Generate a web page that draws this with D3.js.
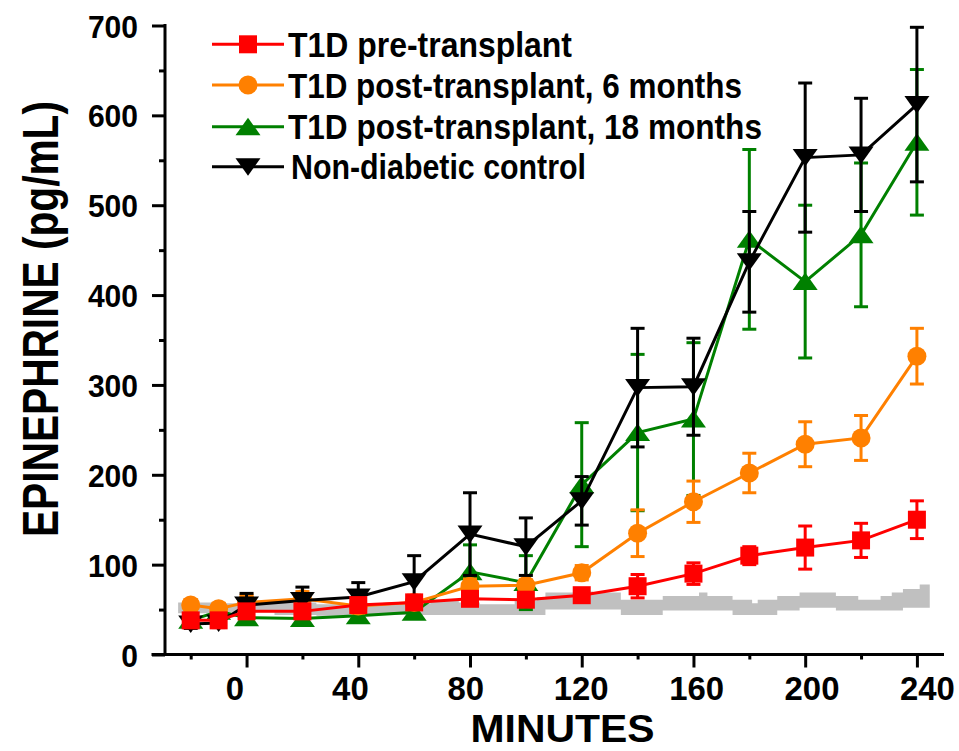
<!DOCTYPE html>
<html><head><meta charset="utf-8">
<script src="https://cdn.jsdelivr.net/npm/d3@7"></script>
<style>
body{margin:0;background:#fff;}
svg{display:block;}
text{font-family:"Liberation Sans",Arial,sans-serif;font-weight:bold;fill:#000;}
</style>
</head><body>
<svg id="chart" width="959" height="751"></svg>
<script>
// ---- data ----
const times = [-20, -10, 0, 20, 40, 60, 80, 100, 120, 140, 160, 180, 200, 220, 240];
const seriesNames = ["T1D pre-transplant", "T1D post-transplant, 6 months", "T1D post-transplant, 18 months", "Non-diabetic control"];
const preTx      = [38, 38, 48, 48, 55, 58, 62, 61, 66, 76, 90, 110, 119, 127, 150];
const preTxErr   = [5, 5, 5, 5, 5, 5, 5, 5, 6, 13, 12, 10, 24, 19, 21];
const post6      = [55, 51, 58, 62, 54, 58, 76, 77, 91, 135, 170, 202, 234, 241, 332];
const post6Err   = [6, 6, 8, 8, 8, 8, 8, 6, 8, 26, 23, 22, 25, 25, 31];
const post18     = [38, 48, 41, 40, 43, 47, 92, 80, 189, 247, 262, 462, 415, 467, 570];
const post18Err  = [6, 6, 6, 6, 6, 6, 30, 30, 69, 87, 85, 100, 85, 80, 81];
const control    = [34, 35, 55, 60, 64, 81, 134, 120, 171, 297, 298, 437, 553, 556, 612];
const controlErr = [5, 5, 13, 15, 16, 29, 46, 32, 27, 66, 54, 56, 83, 63, 86];
// grey reference band (step edges)
const bandT  = [-24.5, -10, 10, 25, 40, 55, 66, 76, 83.5, 96, 104, 107, 118, 122, 124, 134, 149, 162, 165, 174, 181, 183, 190, 198, 211, 219, 227, 231, 235, 241, 244.6];
const bandLo = [46, 47, 44, 43, 44, 44, 44, 44, 44, 44, 44, 50, 50, 50, 50, 44, 49, 49, 49, 44, 44, 44, 49, 52, 49, 49, 49, 49, 52, 52, 52];
const bandHi = [58, 57, 58, 56, 55, 57, 61, 58, 56, 60, 64, 69, 72, 70, 69, 61, 65, 69, 65, 61, 57, 61, 65, 69, 65, 61, 65, 69, 73, 78, 78];
const yTicks = [0, 100, 200, 300, 400, 500, 600, 700];
const yMinor = [50, 150, 250, 350, 450, 550, 650];
const xTicks = [0, 40, 80, 120, 160, 200, 240];
const xMinor = [-20, 20, 60, 100, 140, 180, 220];
const xTitle = "MINUTES";
const yTitle = "EPINEPHRINE (pg/mL)";

const svg = d3.select("#chart");
const x = d3.scaleLinear().domain([-29.2, 249.7]).range([165, 944]);
const y = d3.scaleLinear().domain([0, 700]).range([654.5, 25.5]);
const xLab = d3.scaleLinear().domain([0, 240]).range([235, 927.4]);

const series = [
  {name: seriesNames[0], v: preTx,   e: preTxErr,   color: "#ff0000", shape: "square"},
  {name: seriesNames[1], v: post6,   e: post6Err,   color: "#ff8000", shape: "circle"},
  {name: seriesNames[2], v: post18,  e: post18Err,  color: "#008000", shape: "up"},
  {name: seriesNames[3], v: control, e: controlErr, color: "#000000", shape: "down"}
];
const drawOrder = [2, 1, 3, 0];

const shapes = {
  square: "M-9,-9H9V9H-9Z",
  up: "M0,-9L12.5,8.5L-12.5,8.5Z",
  down: "M-12.5,-8.5L12.5,-8.5L0,9Z"
};
function marker(g, s, cx, cy, c) {
  if (s === "circle") {
    g.append("circle").attr("cx", cx).attr("cy", cy).attr("r", 9.5).attr("fill", c);
  } else {
    g.append("path").attr("d", shapes[s]).attr("transform", `translate(${cx},${cy})`).attr("fill", c);
  }
}

// grey band
const band = bandT.map((t, i) => ({t, lo: bandLo[i], hi: bandHi[i]}));
svg.append("path").datum(band)
  .attr("d", d3.area().curve(d3.curveStepAfter).x(d => x(d.t)).y0(d => y(d.lo)).y1(d => y(d.hi)))
  .attr("fill", "#c0c0c0");

// series
drawOrder.forEach(si => {
  const s = series[si];
  const g = svg.append("g");
  const pts = times.map((t, i) => ({t, v: s.v[i], e: s.e[i]}));
  g.append("path").datum(pts)
    .attr("d", d3.line().x(d => x(d.t)).y(d => y(d.v)))
    .attr("fill", "none").attr("stroke", s.color).attr("stroke-width", 3);
  pts.forEach(d => {
    const cx = x(d.t);
    g.append("line").attr("x1", cx).attr("x2", cx).attr("y1", y(d.v - d.e)).attr("y2", y(d.v + d.e))
      .attr("stroke", s.color).attr("stroke-width", 3);
    [d.v - d.e, d.v + d.e].forEach(val => {
      g.append("line").attr("x1", cx - 7).attr("x2", cx + 7).attr("y1", y(val)).attr("y2", y(val))
        .attr("stroke", s.color).attr("stroke-width", 3);
    });
  });
  pts.forEach(d => marker(g, s.shape, x(d.t), y(d.v), s.color));
});

// axes
const yAxis = svg.append("g").attr("transform", "translate(165,0)")
  .call(d3.axisLeft(y).tickValues(yTicks).tickSize(13).tickPadding(14));
yAxis.select(".domain").remove();
yAxis.selectAll(".tick line").attr("stroke", "#000").attr("stroke-width", 3);
yAxis.selectAll(".tick text").attr("font-size", 32).attr("dy", "0.36em")
  .attr("fill", "#000").style("font-family", '"Liberation Sans",Arial,sans-serif').style("font-weight", "bold")
  .attr("textLength", d => String(d).length * 16.7).attr("lengthAdjust", "spacingAndGlyphs");
const yMin = svg.append("g").attr("transform", "translate(165,0)")
  .call(d3.axisLeft(y).tickValues(yMinor).tickSize(6).tickFormat(""));
yMin.select(".domain").remove();
yMin.selectAll(".tick line").attr("stroke", "#000").attr("stroke-width", 3);

const xAxis = svg.append("g").attr("transform", "translate(0,654.5)")
  .call(d3.axisBottom(x).tickValues(xTicks).tickSize(13).tickFormat(""));
xAxis.select(".domain").remove();
xAxis.selectAll(".tick line").attr("stroke", "#000").attr("stroke-width", 3);
const xMin = svg.append("g").attr("transform", "translate(0,654.5)")
  .call(d3.axisBottom(x).tickValues(xMinor).tickSize(5).tickFormat(""));
xMin.select(".domain").remove();
xMin.selectAll(".tick line").attr("stroke", "#000").attr("stroke-width", 3);
svg.append("g").selectAll("text").data(xTicks).join("text")
  .attr("x", d => xLab(d)).attr("y", 700).attr("text-anchor", "middle")
  .attr("font-size", 34).text(d => d)
  .attr("textLength", d => String(d).length * 18.3).attr("lengthAdjust", "spacingAndGlyphs");

svg.append("line").attr("x1", 165).attr("x2", 165).attr("y1", 24).attr("y2", 656)
  .attr("stroke", "#000").attr("stroke-width", 3);
svg.append("line").attr("x1", 151.5).attr("x2", 944).attr("y1", 654.5).attr("y2", 654.5)
  .attr("stroke", "#000").attr("stroke-width", 3);

// titles
svg.append("text").attr("x", 562.5).attr("y", 742).attr("text-anchor", "middle")
  .attr("font-size", 38).attr("textLength", 184).attr("lengthAdjust", "spacingAndGlyphs").text(xTitle);
svg.append("text").attr("transform", "translate(57.5,319) rotate(-90)").attr("text-anchor", "middle")
  .attr("font-size", 50).attr("textLength", 436).attr("lengthAdjust", "spacingAndGlyphs").text(yTitle);

// legend
const legY = [44.3, 85, 126.7, 166.7];
const legLen = [284, 454, 474, 295];
series.forEach((s, i) => {
  const g = svg.append("g");
  g.append("line").attr("x1", 212).attr("x2", 284).attr("y1", legY[i]).attr("y2", legY[i])
    .attr("stroke", s.color).attr("stroke-width", 3);
  marker(g, s.shape, 248, legY[i], s.color);
  g.append("text").attr("x", i === 3 ? 291 : 288).attr("y", legY[i] + 12.5).attr("font-size", 35)
    .attr("textLength", legLen[i]).attr("lengthAdjust", "spacingAndGlyphs").text(s.name);
});
</script>
</body></html>
